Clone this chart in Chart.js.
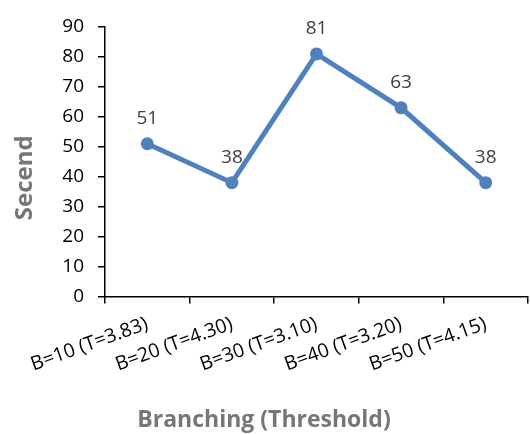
<!DOCTYPE html>
<html>
<head>
<meta charset="utf-8">
<script src="https://cdn.jsdelivr.net/npm/chart.js@4/dist/chart.umd.min.js"></script>
<style>
  html, body { margin: 0; padding: 0; background: #fff; }
  #wrap { width: 530px; height: 434px; }
</style>
</head>
<body>
<div id="wrap"><canvas id="c" width="530" height="434"></canvas></div>
<script>
// Branching factor / threshold settings and the measured time (seconds)
const categories = ['B=10 (T=3.83)', 'B=20 (T=4.30)', 'B=30 (T=3.10)', 'B=40 (T=3.20)', 'B=50 (T=4.15)'];
const seconds = [51, 38, 81, 63, 38];
const yTicks = [0, 10, 20, 30, 40, 50, 60, 70, 80, 90];
const xTitle = 'Branching (Threshold)';
const yTitle = 'Secend';

const FONT = "'Open Sans', 'Liberation Sans', sans-serif";
const LINE_BLUE = '#4f81bd';
const TITLE_GRAY = '#767676';

// Writes each point's value just above its marker
const pointValues = {
  id: 'pointValues',
  afterDatasetsDraw(chart) {
    const ctx = chart.ctx;
    const meta = chart.getDatasetMeta(0);
    const values = chart.data.datasets[0].data;
    ctx.save();
    ctx.font = "19px " + FONT;
    ctx.fillStyle = '#404040';
    ctx.textAlign = 'center';
    ctx.textBaseline = 'middle';
    meta.data.forEach((pt, i) => {
      ctx.fillText(String(values[i]), pt.x, pt.y - 25);
    });
    ctx.restore();
  }
};

// Vertical y-axis title, sitting a little below the axis midpoint
const yAxisTitle = {
  id: 'yAxisTitle',
  afterDraw(chart) {
    const ctx = chart.ctx;
    const area = chart.chartArea;
    ctx.save();
    ctx.translate(25, (area.top + area.bottom) / 2 + 16);
    ctx.rotate(-Math.PI / 2);
    ctx.font = "bold 24px " + FONT;
    ctx.fillStyle = TITLE_GRAY;
    ctx.textAlign = 'center';
    ctx.textBaseline = 'middle';
    ctx.fillText(yTitle, 0, 0);
    ctx.restore();
  }
};

new Chart(document.getElementById('c'), {
  type: 'line',
  data: {
    labels: categories,
    datasets: [{
      data: seconds,
      borderColor: LINE_BLUE,
      backgroundColor: LINE_BLUE,
      borderWidth: 5,
      pointRadius: 6.5,
      pointHoverRadius: 6.5,
      pointBackgroundColor: LINE_BLUE,
      pointBorderColor: LINE_BLUE,
      pointBorderWidth: 0,
      tension: 0,
      fill: false
    }]
  },
  options: {
    responsive: false,
    animation: false,
    devicePixelRatio: 1,
    layout: {
      autoPadding: false,
      padding: { top: 27, right: 2, left: 0, bottom: 0 }
    },
    plugins: {
      legend: { display: false },
      tooltip: { enabled: false },
      title: {
        display: true,
        position: 'bottom',
        text: xTitle,
        color: TITLE_GRAY,
        font: { family: FONT, size: 23, weight: 'bold' },
        padding: { top: 14, bottom: 0 }
      }
    },
    scales: {
      x: {
        offset: true,
        grid: {
          offset: true,
          drawOnChartArea: false,
          drawTicks: true,
          tickLength: 7,
          color: '#000',
          lineWidth: 1.5
        },
        border: { display: true, color: '#000', width: 1.5 },
        ticks: {
          color: '#000',
          font: { family: FONT, size: 19.5 },
          minRotation: 20,
          maxRotation: 20,
          padding: 9,
          autoSkip: false
        },
        afterFit(scale) {
          scale.height = 96;
          scale.paddingRight = 0;
        }
      },
      y: {
        min: 0,
        max: 90,
        afterBuildTicks(scale) { scale.ticks = yTicks.map(v => ({ value: v })); },
        grid: {
          drawOnChartArea: false,
          drawTicks: true,
          tickLength: 7,
          color: '#000',
          lineWidth: 1.5
        },
        border: { display: true, color: '#000', width: 1.5 },
        ticks: {
          color: '#000',
          font: { family: FONT, size: 19 },
          padding: 14
        },
        afterFit(scale) { scale.width = 105; }
      }
    }
  },
  plugins: [pointValues, yAxisTitle]
});
</script>
</body>
</html>
